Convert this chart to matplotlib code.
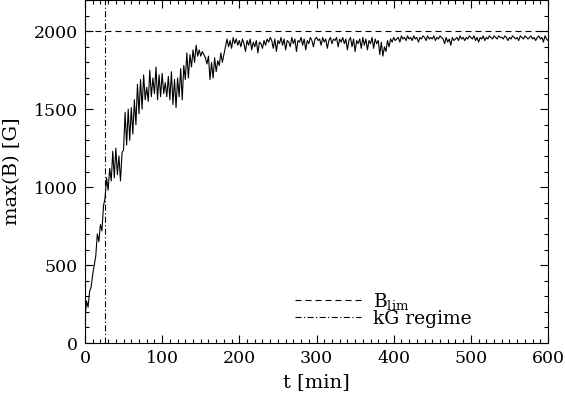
import matplotlib
matplotlib.use('Agg')
import matplotlib.pyplot as plt
import numpy as np

plt.rcParams['font.family'] = 'DejaVu Serif'
plt.rcParams['mathtext.fontset'] = 'dejavuserif'
plt.rcParams['lines.scale_dashes'] = False

b_max = [
    150, 270, 230, 330, 360, 440, 500, 560, 700, 650, 760, 720, 880, 930, 1060,
    980, 1120, 1040, 1230, 1060, 1250, 1080, 1200, 1040, 1220, 1240, 1480, 1270, 1500, 1300,
    1510, 1340, 1560, 1400, 1660, 1470, 1690, 1500, 1720, 1560,
    1640, 1550, 1750, 1580, 1700, 1600, 1770, 1560, 1720, 1580,
    1730, 1600, 1670, 1580, 1710, 1560, 1740, 1530, 1690, 1510,
    1700, 1580, 1760, 1560, 1780, 1690, 1860, 1700, 1850, 1770,
    1880, 1800, 1910, 1840, 1880,
    1840, 1870, 1850, 1830, 1790, 1840, 1690, 1800, 1700, 1830,
    1740, 1810, 1780, 1860, 1800, 1850, 1900, 1950, 1900, 1940,
    1890, 1960, 1920, 1950, 1910,
    # 200 - 298
    1940, 1900, 1950, 1920, 1870, 1940, 1910, 1950, 1880, 1930,
    1900, 1940, 1860, 1930, 1920, 1890, 1940, 1910, 1950, 1930,
    1960, 1940, 1890, 1950, 1870, 1940, 1920, 1960, 1910, 1950,
    1880, 1940, 1930, 1900, 1960, 1920, 1950, 1870, 1940, 1930,
    1960, 1910, 1950, 1880, 1940, 1920, 1960, 1940, 1900, 1950,
    # 300 - 398
    1960, 1940, 1950, 1910, 1960, 1930, 1950, 1890, 1940, 1960,
    1920, 1950, 1940, 1960, 1900, 1950, 1930, 1960, 1920, 1950,
    1880, 1940, 1960, 1900, 1950, 1870, 1940, 1920, 1950, 1890,
    1960, 1910, 1950, 1880, 1940, 1920, 1960, 1890, 1950, 1920,
    1940, 1850, 1930, 1840, 1900, 1870, 1940, 1900, 1950, 1930,
    # 400 - 498
    1960, 1940, 1950, 1960, 1930, 1970, 1950, 1960, 1940, 1970,
    1950, 1960, 1940, 1970, 1950, 1960, 1930, 1960, 1950, 1970,
    1960, 1940, 1970, 1950, 1960, 1950, 1970, 1940, 1960, 1950,
    1970, 1960, 1950, 1920, 1960, 1930, 1950, 1910, 1960, 1940,
    1950, 1960, 1940, 1970, 1950, 1960, 1940, 1960, 1950, 1970,
    # 500 - 600
    1960, 1950, 1970, 1940, 1960, 1930, 1960, 1950, 1970, 1940,
    1960, 1950, 1970, 1960, 1950, 1970, 1960, 1950, 1970, 1960,
    1960, 1950, 1970, 1960, 1940, 1960, 1950, 1970, 1960, 1950,
    1960, 1940, 1970, 1960, 1950, 1970, 1960, 1950, 1960, 1970,
    1950, 1960, 1940, 1960, 1970, 1950, 1960, 1930, 1970, 1950,
    1940,
]
t_min = np.arange(0, 601, 2)

b_lim = 2000
t_kg = 26

fig = plt.figure(figsize=(5.65, 3.98), dpi=100)
ax = fig.add_axes([0.1504, 0.138, 0.8196, 0.862])

ax.plot(t_min, b_max, color='black', lw=0.8)
ax.axhline(b_lim, color='black', lw=0.8, dashes=(4.3, 2.9), label=r'B$_{\rm lim}$')
ax.axvline(t_kg, color='black', lw=0.8, dashes=(4.3, 1.8, 0.8, 1.8), label='kG regime')

ax.set_xlim(0, 600)
ax.set_ylim(0, 2200)
ax.set_xticks([0, 100, 200, 300, 400, 500, 600])
ax.set_xticks(np.arange(0, 601, 10), minor=True)
ax.set_yticks([0, 500, 1000, 1500, 2000])
ax.set_yticks(np.arange(0, 2201, 100), minor=True)
ax.tick_params(which='both', direction='in', top=True, right=True, labelsize=12.5, width=0.8)
ax.tick_params(which='major', length=5.5, pad=5)
ax.tick_params(which='minor', length=3)
for s in ax.spines.values():
    s.set_linewidth(0.8)

ax.set_xlabel('t [min]', fontsize=14, labelpad=4)
ax.set_ylabel('max(B) [G]', fontsize=14, labelpad=9)

ax.legend(loc='lower left', bbox_to_anchor=(0.454, 0.045), frameon=False, fontsize=13.5,
          handlelength=3.5, handletextpad=0.65, labelspacing=-0.1, borderpad=0,
          borderaxespad=0)

plt.savefig('out.png', dpi=100)
